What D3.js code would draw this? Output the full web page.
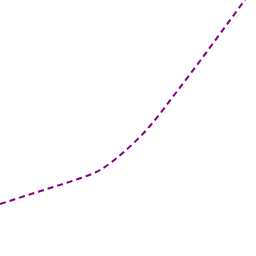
<!DOCTYPE html>
<html>
<head>
<meta charset="utf-8">
<script src="https://cdn.jsdelivr.net/npm/d3@7"></script>
<style>
  body { margin: 0; background: #fff; }
</style>
</head>
<body>
<script>
// series values (x steps and y values)
var xValues = [0, 1, 2, 3, 4, 5, 6, 7, 8, 9, 10];
var yValues = [52, 60, 68, 76, 86, 105, 130, 162, 195, 229, 263];

var width = 256, height = 256;

var svg = d3.select("body").append("svg")
    .attr("width", width)
    .attr("height", height);

var xScale = d3.scaleLinear().domain([0, 10]).range([0, 250]);
var yScale = d3.scaleLinear().domain([0, 256]).range([256, 0]);

var data = xValues.map(function(d, i) { return {x: d, y: yValues[i]}; });

var line = d3.line()
    .x(function(d) { return xScale(d.x); })
    .y(function(d) { return yScale(d.y); })
    .curve(d3.curveMonotoneX);

svg.append("path")
    .datum(data)
    .attr("d", line)
    .attr("fill", "none")
    .attr("stroke", "#800080")
    .attr("stroke-width", 2)
    .attr("stroke-dasharray", "6,4");
</script>
</body>
</html>
